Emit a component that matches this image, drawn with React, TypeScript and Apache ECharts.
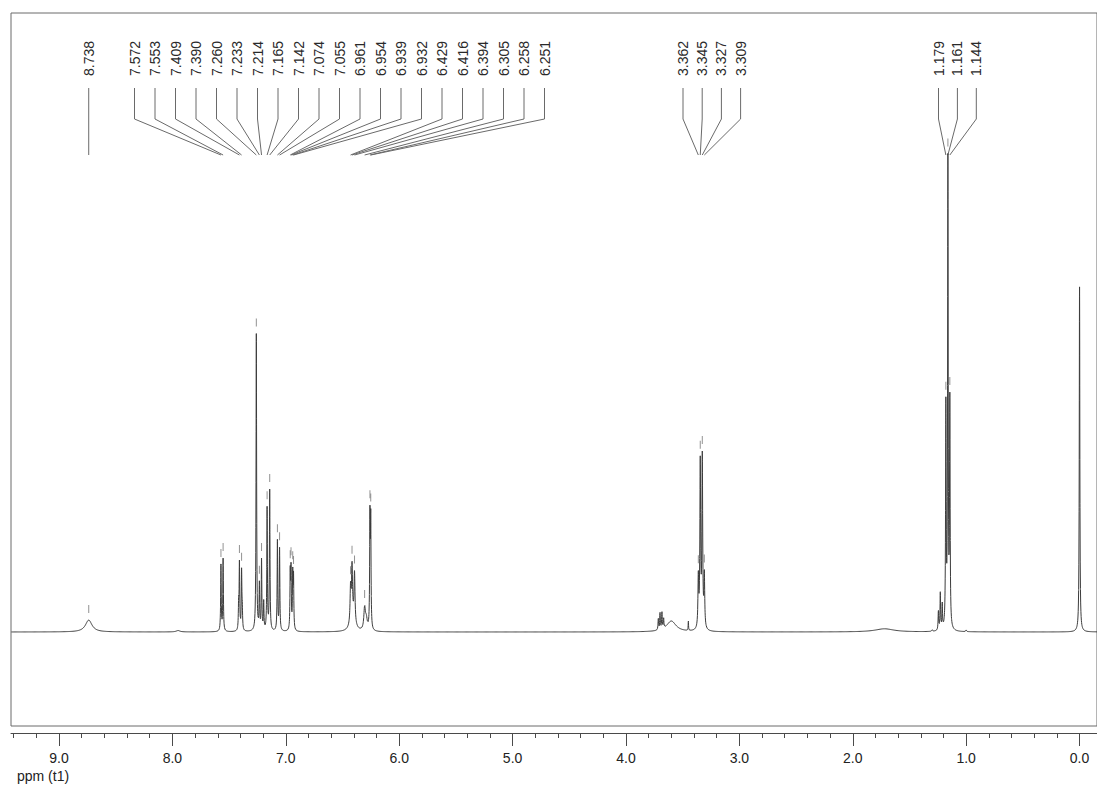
import React, { useEffect, useRef } from "react";
import * as echarts from "echarts";

// Peak lists: [shift (ppm), intensity, Lorentzian half-width (ppm)]
const nhPeaks: [number, number, number][] = [[8.738, 3.4, 0.035]];

const aromaticPeaks: [number, number, number][] = [
  [7.572, 18.9, 0.003],
  [7.553, 20.6, 0.003],
  [7.409, 18.9, 0.003],
  [7.39, 16.6, 0.003],
  [7.26, 84.9, 0.003],
  [7.233, 12.9, 0.003],
  [7.214, 20.0, 0.003],
  [7.165, 34.9, 0.003],
  [7.142, 40.0, 0.003],
  [7.074, 25.7, 0.003],
  [7.055, 23.4, 0.003],
  [6.961, 16.0, 0.003],
  [6.954, 16.5, 0.003],
  [6.939, 15.5, 0.003],
  [6.932, 14.5, 0.003],
  [6.429, 10.0, 0.005],
  [6.416, 15.0, 0.005],
  [6.394, 14.0, 0.005],
  [6.305, 6.3, 0.008],
  [6.258, 31.0, 0.003],
  [6.251, 30.0, 0.003],
];

const quartetPeaks: [number, number, number][] = [
  [3.362, 14.3, 0.004],
  [3.345, 47.0, 0.004],
  [3.327, 48.5, 0.004],
  [3.309, 14.8, 0.004],
];

const tripletPeaks: [number, number, number][] = [
  [1.179, 63.0, 0.003],
  [1.161, 133.0, 0.003],
  [1.144, 64.0, 0.003],
];

// Reference signal and unlabelled shoulders / impurities
const tmsPeaks: [number, number, number][] = [[0.0, 98.6, 0.003]];

const minorPeaks: [number, number, number][] = [
  [7.95, 0.4, 0.02],
  [7.416, 7.0, 0.003],
  [7.384, 5.5, 0.003],
  [7.195, 8.0, 0.003],
  [6.41, 3.5, 0.025],
  [6.29, 3.0, 0.01],
  [3.715, 3.2, 0.003],
  [3.7, 4.8, 0.003],
  [3.683, 4.8, 0.003],
  [3.668, 2.8, 0.003],
  [3.6, 3.1, 0.05],
  [3.45, 2.8, 0.002],
  [1.72, 0.9, 0.1],
  [1.3, 0.5, 0.004],
  [1.245, 5.5, 0.003],
  [1.228, 10.5, 0.003],
  [1.211, 7.2, 0.003],
  [1.0, 0.5, 0.004],
];

// Axis ticks (ppm)
const majorTicks = [0, 1, 2, 3, 4, 5, 6, 7, 8, 9];
const minorTicks: number[] = [];
for (let i = 1; i <= 47; i++) {
  if (i % 5 !== 0) minorTicks.push(Math.round(i * 2) / 10);
}

const X_MIN = -0.1539;
const X_MAX = 9.4235;
const Y_MIN = -26.86;
const Y_MAX = 176.86;

const allPeaks = [
  ...nhPeaks,
  ...aromaticPeaks,
  ...quartetPeaks,
  ...tripletPeaks,
  ...tmsPeaks,
  ...minorPeaks,
];

function lorentz(x: number, c: number, h: number, g: number) {
  const d = x - c;
  return (h * g * g) / (d * d + g * g);
}

function spectrumAt(x: number) {
  let s = 0;
  for (const [c, h, g] of allPeaks) s += lorentz(x, c, h, g);
  return s;
}

function buildSpectrum(): [number, number][] {
  const xs = new Set<number>();
  for (let x = X_MIN; x <= X_MAX; x += 0.002) xs.add(Math.round(x * 1e5) / 1e5);
  const offs = [0, 0.0005, 0.001, 0.0015, 0.002, 0.003, 0.004, 0.006, 0.008, 0.012, 0.016, 0.024, 0.032, 0.05];
  for (const [c] of allPeaks) {
    for (const o of offs) {
      xs.add(Math.round((c + o) * 1e5) / 1e5);
      xs.add(Math.round((c - o) * 1e5) / 1e5);
    }
  }
  return Array.from(xs)
    .filter((x) => x >= X_MIN && x <= X_MAX)
    .sort((a, b) => a - b)
    .map((x) => [x, spectrumAt(x)] as [number, number]);
}

// Label layout: first label x and spacing per multiplet group
const labelGroups = [
  { peaks: nhPeaks, x0: null as number | null, step: 0 },
  { peaks: aromaticPeaks, x0: 134.5, step: 20.5 },
  { peaks: quartetPeaks, x0: 683, step: 19.2 },
  { peaks: tripletPeaks, x0: 938.5, step: 18.9 },
];

const LABEL_BOTTOM = 76;
const LINE_TOP = 88;
const LINE_BEND = 119;
const LINE_END = 155;
const FONT = '"Liberation Sans", Arial, sans-serif';

export default function App() {
  const ref = useRef<HTMLDivElement>(null);

  useEffect(() => {
    const chart = echarts.init(ref.current!, null, { renderer: "svg" });
    const labelled = labelGroups.flatMap((g) => g.peaks.map((p) => p[0]));

    chart.setOption({
      animation: false,
      backgroundColor: "#ffffff",
      grid: {
        left: 11,
        right: -3,
        top: 13,
        bottom: 65,
        show: true,
        borderColor: "#6a6a6a",
        borderWidth: 1,
        backgroundColor: "transparent",
      },
      xAxis: [
        {
          type: "value",
          min: X_MIN,
          max: X_MAX,
          inverse: true,
          position: "bottom",
          offset: 7,
          axisLine: { show: true, onZero: false, lineStyle: { color: "#4a4a4a", width: 1 } },
          axisTick: {
            show: true,
            inside: false,
            length: 13,
            customValues: majorTicks,
            lineStyle: { color: "#4a4a4a", width: 1 },
          },
          axisLabel: {
            show: true,
            customValues: majorTicks,
            formatter: (v: number) => v.toFixed(1),
            margin: 18,
            color: "#222",
            fontSize: 14,
            fontFamily: FONT,
          },
          splitLine: { show: false },
        },
        {
          type: "value",
          min: X_MIN,
          max: X_MAX,
          inverse: true,
          position: "bottom",
          offset: 7,
          axisLine: { show: false, onZero: false },
          axisTick: {
            show: true,
            inside: false,
            length: 5,
            customValues: minorTicks,
            lineStyle: { color: "#4a4a4a", width: 1 },
          },
          axisLabel: { show: false },
          splitLine: { show: false },
        },
      ],
      yAxis: { type: "value", min: Y_MIN, max: Y_MAX, show: false, splitLine: { show: false } },
      series: [
        {
          type: "line",
          xAxisIndex: 0,
          data: buildSpectrum(),
          showSymbol: false,
          symbol: "none",
          lineStyle: { color: "#3c3c3c", width: 1 },
          silent: true,
        },
        {
          type: "scatter",
          xAxisIndex: 0,
          data: labelled.map((p) => [p, spectrumAt(p)]),
          symbol: "rect",
          symbolSize: [1, 8],
          symbolOffset: [0, -11],
          itemStyle: { color: "#777" },
          silent: true,
        },
      ],
    });

    const elements: any[] = [];
    for (const g of labelGroups) {
      g.peaks.forEach(([ppm], i) => {
        const px = chart.convertToPixel({ xAxisIndex: 0 }, ppm) as number;
        const lx = g.x0 === null ? px : g.x0 + i * g.step;
        elements.push({
          type: "text",
          x: lx,
          y: LABEL_BOTTOM,
          rotation: Math.PI / 2,
          style: {
            text: ppm.toFixed(3),
            fill: "#2a2a2a",
            fontSize: 14,
            fontFamily: FONT,
            align: "left",
            verticalAlign: "middle",
          },
        });
        const pts =
          g.x0 === null
            ? [
                [lx, LINE_TOP],
                [px, LINE_END],
              ]
            : [
                [lx, LINE_TOP],
                [lx, LINE_BEND],
                [px, LINE_END],
              ];
        elements.push({
          type: "polyline",
          shape: { points: pts },
          style: { stroke: "#6a6a6a", lineWidth: 1, fill: null },
          silent: true,
        });
      });
    }
    elements.push({
      type: "text",
      left: 17,
      top: 769,
      style: { text: "ppm (t1)", fill: "#222", fontSize: 14, fontFamily: FONT },
    });

    chart.setOption({ graphic: elements });
    return () => chart.dispose();
  }, []);

  return (
    <div
      ref={ref}
      style={{ position: "absolute", left: 0, top: 0, width: 1097, height: 791, background: "#fff" }}
    />
  );
}
